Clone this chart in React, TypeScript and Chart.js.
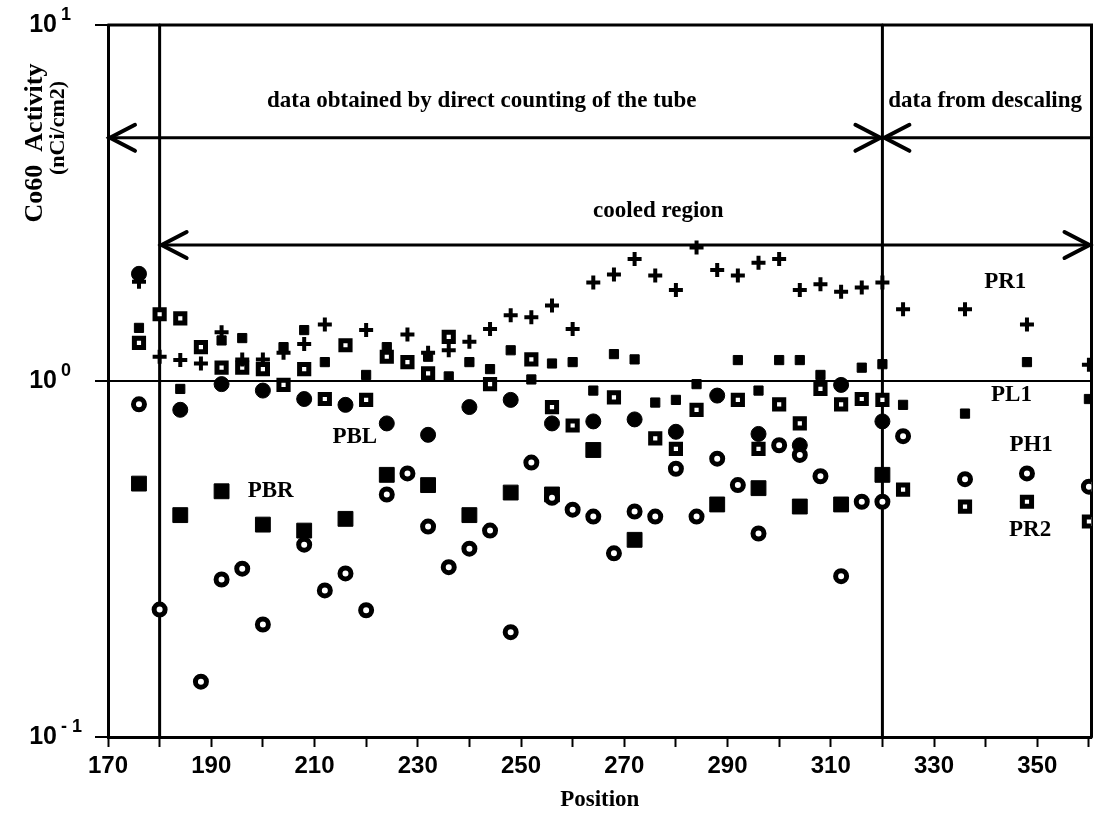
import React, { useEffect, useRef } from 'react';
import { Chart, registerables } from 'chart.js';

Chart.register(...registerables);

// ---- axis ticks ----
const xTickValues = [170, 180, 190, 200, 210, 220, 230, 240, 250, 260, 270, 280, 290, 300, 310, 320, 330, 340, 350, 360];
const xLabelValues = [170, 190, 210, 230, 250, 270, 290, 310, 330, 350];
const yTickValues = [0.1, 1, 10];
const yTickExponents = ['- 1', '0', '1'];

// ---- series: PR1 (+) ----
const pr1Positions = [176, 180, 184, 188, 192, 196, 200, 204, 208, 212, 220, 228, 232, 236, 240, 244, 248, 252, 256, 260, 264, 268, 272, 276, 280, 284, 288, 292, 296, 300, 304, 308, 312, 316, 320, 324, 336, 348, 360];
const pr1Values = [1.9, 1.17, 1.145, 1.12, 1.37, 1.15, 1.15, 1.2, 1.27, 1.44, 1.39, 1.35, 1.2, 1.22, 1.29, 1.4, 1.53, 1.51, 1.63, 1.4, 1.89, 1.99, 2.2, 1.98, 1.8, 2.37, 2.05, 1.98, 2.15, 2.2, 1.8, 1.87, 1.78, 1.83, 1.89, 1.59, 1.59, 1.44, 1.11];

// ---- series: PL1 (small filled square) ----
const pl1Positions = [176, 184, 192, 196, 204, 208, 212, 220, 224, 232, 236, 240, 244, 248, 252, 256, 260, 264, 268, 272, 276, 280, 284, 292, 296, 300, 304, 308, 316, 320, 324, 336, 348, 360];
const pl1Values = [1.41, 0.95, 1.3, 1.32, 1.245, 1.39, 1.13, 1.04, 1.245, 1.17, 1.03, 1.13, 1.08, 1.22, 1.01, 1.12, 1.13, 0.94, 1.19, 1.15, 0.87, 0.885, 0.98, 1.145, 0.94, 1.145, 1.145, 1.04, 1.09, 1.115, 0.857, 0.81, 1.13, 0.89];

// ---- series: PH1 (open circle) ----
const ph1Positions = [176, 180, 188, 192, 196, 200, 208, 212, 216, 220, 224, 228, 232, 236, 240, 244, 248, 252, 256, 260, 264, 268, 272, 276, 280, 284, 288, 292, 296, 300, 304, 308, 312, 316, 320, 324, 336, 348, 360];
const ph1Values = [0.86, 0.228, 0.143, 0.277, 0.297, 0.207, 0.347, 0.258, 0.288, 0.227, 0.48, 0.55, 0.39, 0.3, 0.338, 0.38, 0.197, 0.59, 0.47, 0.435, 0.416, 0.328, 0.43, 0.416, 0.567, 0.416, 0.605, 0.51, 0.373, 0.66, 0.62, 0.54, 0.283, 0.458, 0.458, 0.7, 0.53, 0.55, 0.505];

// ---- series: PR2 (open square) ----
const pr2Positions = [176, 180, 184, 188, 192, 196, 200, 204, 208, 212, 216, 220, 224, 228, 232, 236, 244, 252, 256, 260, 268, 276, 280, 284, 292, 296, 300, 304, 308, 312, 316, 320, 324, 336, 348, 360];
const pr2Values = [1.28, 1.54, 1.5, 1.245, 1.09, 1.09, 1.08, 0.975, 1.08, 0.89, 1.26, 0.885, 1.17, 1.13, 1.05, 1.33, 0.98, 1.15, 0.845, 0.75, 0.9, 0.69, 0.645, 0.83, 0.885, 0.645, 0.86, 0.76, 0.95, 0.86, 0.89, 0.885, 0.495, 0.444, 0.458, 0.403];

// ---- series: PBL (filled circle) ----
const pblPositions = [176, 184, 192, 200, 208, 216, 224, 232, 240, 248, 256, 264, 272, 280, 288, 296, 304, 312, 320];
const pblValues = [2.0, 0.83, 0.98, 0.94, 0.89, 0.857, 0.76, 0.706, 0.845, 0.885, 0.76, 0.77, 0.78, 0.72, 0.91, 0.71, 0.66, 0.975, 0.77];

// ---- series: PBR (filled square) ----
const pbrPositions = [176, 184, 192, 200, 208, 216, 224, 232, 240, 248, 256, 264, 272, 288, 296, 304, 312, 320];
const pbrValues = [0.515, 0.42, 0.49, 0.395, 0.38, 0.41, 0.545, 0.51, 0.42, 0.486, 0.48, 0.64, 0.358, 0.45, 0.5, 0.444, 0.45, 0.545];

// ---- annotations (data coordinates) ----
const regionBoundaries = [180, 320];
const arrows = [
  { from: 170, to: 320, level: 4.82, headStart: true, headEnd: true },
  { from: 320, to: 360.5, level: 4.82, headStart: true, headEnd: false },
  { from: 180, to: 360.5, level: 2.41, headStart: true, headEnd: true },
];
const notes = [
  { text: 'data obtained by direct counting of the tube', x: 242.4, y: 6.1 },
  { text: 'data from descaling', x: 339.9, y: 6.1 },
  { text: 'cooled region', x: 276.6, y: 3.0 },
];
const seriesLabels = [
  { text: 'PR1', x: 343.8, y: 1.896 },
  { text: 'PL1', x: 345, y: 0.913 },
  { text: 'PH1', x: 348.8, y: 0.661 },
  { text: 'PR2', x: 348.6, y: 0.3815 },
  { text: 'PBL', x: 217.8, y: 0.696 },
  { text: 'PBR', x: 201.5, y: 0.49 },
];

const toPoints = (xs: number[], ys: number[]) => xs.map((x, i) => ({ x, y: ys[i] }));

const SERIF = '"Liberation Serif", "Times New Roman", serif';
const SANS = '"Liberation Sans", Arial, sans-serif';

const overlayPlugin = {
  id: 'overlay',
  beforeDatasetsDraw(chart: any) {
    const { ctx, chartArea: a, scales } = chart;
    const xs = scales.x;
    const ys = scales.y;
    ctx.save();
    ctx.strokeStyle = '#000';
    ctx.lineCap = 'round';
    // frame (top + right)
    ctx.lineWidth = 3;
    ctx.beginPath();
    ctx.moveTo(a.left, a.top);
    ctx.lineTo(a.right, a.top);
    ctx.lineTo(a.right, a.bottom);
    ctx.stroke();
    // region boundaries
    for (const v of regionBoundaries) {
      const px = xs.getPixelForValue(v);
      ctx.beginPath();
      ctx.moveTo(px, a.top);
      ctx.lineTo(px, a.bottom);
      ctx.stroke();
    }
    // arrows
    for (const ar of arrows) {
      const x1 = xs.getPixelForValue(ar.from);
      const x2 = xs.getPixelForValue(ar.to);
      const py = ys.getPixelForValue(ar.level);
      ctx.lineWidth = 3;
      ctx.beginPath();
      ctx.moveTo(x1, py);
      ctx.lineTo(x2, py);
      ctx.stroke();
      ctx.lineWidth = 4;
      if (ar.headStart) {
        ctx.beginPath();
        ctx.moveTo(x1 + 27, py - 13);
        ctx.lineTo(x1 + 2, py);
        ctx.lineTo(x1 + 27, py + 13);
        ctx.stroke();
      }
      if (ar.headEnd) {
        ctx.beginPath();
        ctx.moveTo(x2 - 27, py - 13);
        ctx.lineTo(x2 - 2, py);
        ctx.lineTo(x2 - 27, py + 13);
        ctx.stroke();
      }
    }
    ctx.restore();
  },
  afterDraw(chart: any) {
    const { ctx, scales } = chart;
    const xs = scales.x;
    const ys = scales.y;
    ctx.save();
    ctx.fillStyle = '#000';
    // annotation text
    ctx.textAlign = 'center';
    ctx.textBaseline = 'middle';
    ctx.font = `bold 23px ${SERIF}`;
    for (const n of notes) {
      ctx.fillText(n.text, xs.getPixelForValue(n.x), ys.getPixelForValue(n.y));
    }
    for (const l of seriesLabels) {
      ctx.fillText(l.text, xs.getPixelForValue(l.x), ys.getPixelForValue(l.y));
    }
    // y tick labels (10 with superscript exponent)
    yTickValues.forEach((v, i) => {
      const py = ys.getPixelForValue(v);
      ctx.textBaseline = 'middle';
      ctx.textAlign = 'right';
      ctx.font = `bold 25px ${SANS}`;
      ctx.fillText('10', 57, py);
      ctx.textAlign = 'left';
      ctx.font = `bold 18px ${SANS}`;
      ctx.fillText(yTickExponents[i], 61, py - 10);
    });
    // y axis title
    ctx.save();
    ctx.translate(35, 143);
    ctx.rotate(-Math.PI / 2);
    ctx.textAlign = 'center';
    ctx.textBaseline = 'middle';
    ctx.font = `bold 26px ${SERIF}`;
    ctx.fillText('Co60  Activity', 0, 0);
    ctx.restore();
    ctx.save();
    ctx.translate(58, 128);
    ctx.rotate(-Math.PI / 2);
    ctx.textAlign = 'center';
    ctx.textBaseline = 'middle';
    ctx.font = `bold 22px ${SERIF}`;
    ctx.fillText('(nCi/cm2)', 0, 0);
    ctx.restore();
    ctx.restore();
  },
};

export default function App() {
  const canvasRef = useRef<HTMLCanvasElement>(null);

  useEffect(() => {
    const canvas = canvasRef.current;
    if (!canvas) return;
    const chart = new Chart(canvas, {
      type: 'scatter',
      data: {
        datasets: [
          {
            label: 'PR1',
            data: toPoints(pr1Positions, pr1Values),
            pointStyle: 'cross',
            pointRadius: 7,
            pointBorderWidth: 4,
            borderColor: '#000',
            backgroundColor: '#000',
          },
          {
            label: 'PL1',
            data: toPoints(pl1Positions, pl1Values),
            pointStyle: 'rect',
            pointRadius: 6.5,
            pointBorderWidth: 1,
            borderColor: '#000',
            backgroundColor: '#000',
          },
          {
            label: 'PH1',
            data: toPoints(ph1Positions, ph1Values),
            pointStyle: 'circle',
            pointRadius: 5.5,
            pointBorderWidth: 5,
            borderColor: '#000',
            backgroundColor: '#fff',
          },
          {
            label: 'PR2',
            data: toPoints(pr2Positions, pr2Values),
            pointStyle: 'rect',
            pointRadius: 6.5,
            pointBorderWidth: 5,
            borderColor: '#000',
            backgroundColor: '#fff',
          },
          {
            label: 'PBL',
            data: toPoints(pblPositions, pblValues),
            pointStyle: 'circle',
            pointRadius: 7.5,
            pointBorderWidth: 1,
            borderColor: '#000',
            backgroundColor: '#000',
          },
          {
            label: 'PBR',
            data: toPoints(pbrPositions, pbrValues),
            pointStyle: 'rect',
            pointRadius: 10.5,
            pointBorderWidth: 1,
            borderColor: '#000',
            backgroundColor: '#000',
          },
        ],
      },
      options: {
        responsive: false,
        animation: false,
        devicePixelRatio: 1,
        layout: { padding: { top: 25, right: 11, left: 0, bottom: 0 } },
        plugins: {
          legend: { display: false },
          tooltip: { enabled: false },
        },
        scales: {
          x: {
            type: 'linear',
            position: 'bottom',
            min: 170,
            max: 360.5,
            afterBuildTicks: (axis: any) => {
              axis.ticks = xTickValues.map((v) => ({ value: v }));
            },
            afterFit: (axis: any) => {
              axis.height = 97;
            },
            ticks: {
              autoSkip: false,
              maxRotation: 0,
              padding: 5,
              color: '#000',
              font: { family: SANS, size: 24, weight: 'bold' },
              callback: (v: any) => (xLabelValues.includes(Number(v)) ? String(v) : ''),
            },
            grid: {
              drawOnChartArea: false,
              drawTicks: true,
              tickLength: 10,
              tickColor: '#000',
              tickWidth: 2,
            },
            border: { display: true, color: '#000', width: 3 },
            title: {
              display: true,
              text: 'Position',
              color: '#000',
              font: { family: SERIF, size: 23, weight: 'bold' },
              padding: { top: 0, bottom: 20 },
            },
          },
          y: {
            type: 'logarithmic',
            min: 0.1,
            max: 10,
            afterBuildTicks: (axis: any) => {
              axis.ticks = yTickValues.map((v) => ({ value: v }));
            },
            afterFit: (axis: any) => {
              axis.width = 108;
            },
            ticks: { display: false },
            grid: {
              color: (c: any) => (c.tick && c.tick.value === 1 ? '#000' : 'rgba(0,0,0,0)'),
              lineWidth: 2,
              drawTicks: true,
              tickLength: 13,
              tickColor: '#000',
              tickWidth: 2,
            },
            border: { display: true, color: '#000', width: 3 },
          },
        },
      },
      plugins: [overlayPlugin],
    } as any);
    return () => chart.destroy();
  }, []);

  return (
    <div style={{ position: 'fixed', left: 0, top: 0, width: 1103, height: 834, background: '#fff' }}>
      <canvas ref={canvasRef} width={1103} height={834} style={{ display: 'block' }} />
    </div>
  );
}
